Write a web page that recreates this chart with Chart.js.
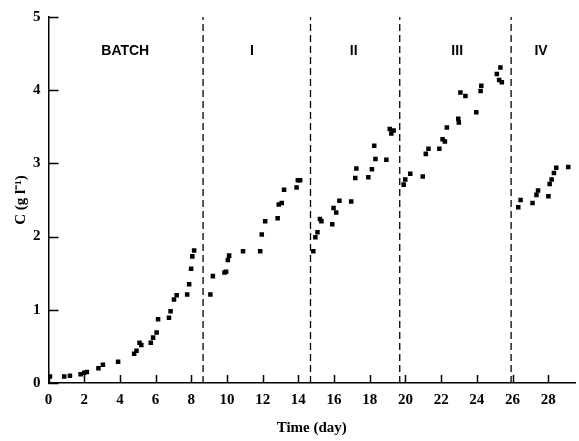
<!DOCTYPE html>
<html>
<head>
<meta charset="utf-8">
<script src="https://cdn.jsdelivr.net/npm/chart.js@4.4.0/dist/chart.umd.min.js"></script>
<style>
  body { margin: 0; background: #fff; }
  #wrap { width: 579px; height: 441px; }
</style>
</head>
<body>
<div id="wrap"><canvas id="concChart"></canvas></div>
<script>
// time (day) and concentration C (g/l) per culture phase
const batchT = [0.08, 0.88, 1.2, 1.8, 2.0, 2.15, 2.8, 3.05, 3.9, 4.8, 4.93, 5.1, 5.2, 5.73, 5.86, 6.06, 6.14, 6.75, 6.84, 7.03, 7.18, 7.77, 7.88, 7.99, 8.06, 8.16];
const batchC = [0.09, 0.09, 0.10, 0.12, 0.14, 0.15, 0.20, 0.25, 0.29, 0.40, 0.44, 0.55, 0.52, 0.55, 0.62, 0.69, 0.87, 0.89, 0.98, 1.14, 1.20, 1.21, 1.35, 1.56, 1.73, 1.81];

const p1T = [9.07, 9.21, 9.86, 9.95, 10.05, 10.12, 10.9, 11.86, 11.95, 12.14, 12.84, 12.9, 13.07, 13.2, 13.9, 13.97, 14.1];
const p1C = [1.21, 1.46, 1.51, 1.52, 1.68, 1.74, 1.80, 1.80, 2.03, 2.21, 2.25, 2.44, 2.46, 2.64, 2.67, 2.77, 2.77];

const p2T = [14.84, 14.95, 15.07, 15.21, 15.29, 15.9, 15.97, 16.12, 16.3, 16.96, 17.19, 17.25, 17.92, 18.12, 18.32, 18.25, 18.93, 19.12, 19.21, 19.34];
const p2C = [1.80, 1.99, 2.06, 2.24, 2.21, 2.17, 2.39, 2.33, 2.49, 2.48, 2.80, 2.93, 2.81, 2.92, 3.06, 3.24, 3.05, 3.47, 3.41, 3.45];

const p3T = [19.9, 19.99, 20.27, 20.97, 21.14, 21.29, 21.9, 22.08, 22.21, 22.32, 22.96, 22.99, 23.08, 23.36, 23.97, 24.21, 24.25, 25.12, 25.32, 25.25, 25.4];
const p3C = [2.71, 2.78, 2.86, 2.82, 3.13, 3.20, 3.20, 3.33, 3.30, 3.49, 3.61, 3.56, 3.97, 3.92, 3.70, 3.99, 4.06, 4.22, 4.31, 4.14, 4.11];

const p4T = [26.32, 26.45, 27.12, 27.34, 27.43, 28.01, 28.08, 28.19, 28.32, 28.45, 29.12];
const p4C = [2.40, 2.50, 2.46, 2.57, 2.63, 2.55, 2.72, 2.78, 2.87, 2.94, 2.95];

// phase boundaries (day) and phase labels
const dividers = [8.66, 14.68, 19.68, 25.92];
const phaseNames = ["BATCH", "I", "II", "III", "IV"];
const phaseLabelT = [4.3, 11.4, 17.1, 22.9, 27.6];
const phaseLabelC = 4.54;

const xTicks = [0, 2, 4, 6, 8, 10, 12, 14, 16, 18, 20, 22, 24, 26, 28];
const yTicks = [0, 1, 2, 3, 4, 5];

const toPts = (t, c) => t.map((v, i) => ({ x: v, y: c[i] }));

const pointSets = [[batchT, batchC], [p1T, p1C], [p2T, p2C], [p3T, p3C], [p4T, p4C]].map(([t, c]) => ({
    data: toPts(t, c),
    pointStyle: "rect",
    pointRadius: 3.2,
    backgroundColor: "#000",
    borderWidth: 0,
    showLine: false
}));

const dividerSets = dividers.map(d => ({
    data: [{ x: d, y: 0 }, { x: d, y: 5 }],
    showLine: true,
    borderColor: "#000",
    borderWidth: 1.3,
    borderDash: [7, 4],
    pointRadius: 0
}));

const serif = "'Liberation Serif', 'Times New Roman', serif";

const extras = {
    id: "extras",
    afterDraw(chart) {
        const { ctx, chartArea } = chart;
        const x = chart.scales.x, y = chart.scales.y;
        ctx.save();
        ctx.setLineDash([]);
        ctx.strokeStyle = "#000";
        ctx.lineWidth = 1.5;
        // inward tick marks
        ctx.beginPath();
        xTicks.forEach(v => {
            const px = Math.round(x.getPixelForValue(v)) + 0.5;
            ctx.moveTo(px, chartArea.bottom);
            ctx.lineTo(px, chartArea.bottom - 8);
        });
        yTicks.forEach(v => {
            const py = Math.round(y.getPixelForValue(v)) + 0.5;
            ctx.moveTo(chartArea.left, py);
            ctx.lineTo(chartArea.left + 10, py);
        });
        ctx.stroke();
        // phase labels
        ctx.fillStyle = "#000";
        ctx.font = "bold 14px 'Liberation Sans', Arial, sans-serif";
        ctx.textAlign = "center";
        ctx.textBaseline = "middle";
        phaseNames.forEach((n, i) => {
            ctx.fillText(n, x.getPixelForValue(phaseLabelT[i]), y.getPixelForValue(phaseLabelC));
        });
        ctx.restore();
    }
};

new Chart(document.getElementById("concChart"), {
    type: "scatter",
    data: { datasets: [...pointSets, ...dividerSets] },
    options: {
        responsive: true,
        maintainAspectRatio: false,
        animation: false,
        layout: { padding: { top: 16, right: 0, left: 0, bottom: 0 } },
        plugins: {
            legend: { display: false },
            tooltip: { enabled: false }
        },
        scales: {
            x: {
                type: "linear",
                min: 0,
                max: 29.5,
                afterFit: s => { s.height = 58; },
                ticks: {
                    stepSize: 2,
                    includeBounds: false,
                    padding: 8,
                    color: "#000",
                    font: { family: serif, size: 15, weight: "bold" }
                },
                grid: { display: false, drawTicks: false },
                border: { display: true, color: "#000", width: 1.5 },
                title: {
                    display: true,
                    text: "Time (day)",
                    color: "#000",
                    padding: { top: 5 },
                    font: { family: serif, size: 15, weight: "bold" }
                }
            },
            y: {
                min: 0,
                max: 5,
                afterFit: s => { s.width = 48.5; },
                ticks: {
                    stepSize: 1,
                    padding: 8,
                    color: "#000",
                    font: { family: serif, size: 15, weight: "bold" }
                },
                grid: { display: false, drawTicks: false },
                border: { display: true, color: "#000", width: 1.5 },
                title: {
                    display: true,
                    text: "C (g l\u207B\u00B9)",
                    color: "#000",
                    padding: { top: 12, bottom: 0 },
                    font: { family: serif, size: 15, weight: "bold" }
                }
            }
        }
    },
    plugins: [extras]
});
</script>
</body>
</html>
